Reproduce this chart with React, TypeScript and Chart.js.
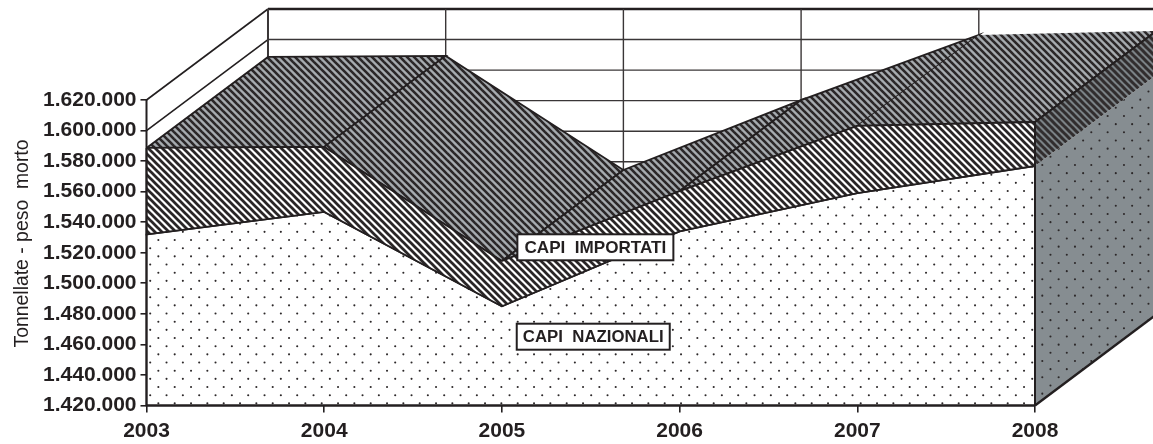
import React, { useEffect, useRef } from "react";
import { Chart, registerables } from "chart.js";

Chart.register(...registerables);

const years = [2003, 2004, 2005, 2006, 2007, 2008];
const capiNazionali = [1532000, 1546700, 1485000, 1534000, 1559000, 1576800];
const capiImportati = [56600, 42600, 29600, 26400, 44000, 28800];
const yTicks = [1420000, 1440000, 1460000, 1480000, 1500000, 1520000, 1540000, 1560000, 1580000, 1600000, 1620000];
const yAxisTitle = "Tonnellate - peso  morto";
const seriesLabels = ["CAPI  IMPORTATI", "CAPI  NAZIONALI"];

const INK = "#231f20";
const FONT = '"Liberation Sans", Arial, sans-serif';
const depthX = 0.6837;
const depthY = 59575;
const yMin = yTicks[0];

type P = { x: number; y: number };

function tile(w: number, h: number, draw: (c: CanvasRenderingContext2D) => void) {
  const cv = document.createElement("canvas");
  cv.width = w;
  cv.height = h;
  draw(cv.getContext("2d")!);
  return document.createElement("canvas").getContext("2d")!.createPattern(cv, "repeat")!;
}

function stripes(bg: string, fg: string, lw: number) {
  const p = 7;
  return tile(p, p, (c) => {
    c.fillStyle = bg;
    c.fillRect(0, 0, p, p);
    c.strokeStyle = fg;
    c.lineWidth = lw;
    for (const o of [-p, 0, p]) {
      c.beginPath();
      c.moveTo(o - 1, -1);
      c.lineTo(o + p + 1, p + 1);
      c.stroke();
    }
  });
}

function dots(bg: string, ox: number, oy: number) {
  const s = 49;
  return tile(s, s, (c) => {
    c.fillStyle = bg;
    c.fillRect(0, 0, s, s);
    c.fillStyle = "#2c2829";
    for (let r = 0; r < 6; r++) {
      for (let k = 0; k < 3; k++) {
        const x = (ox + (r % 2) * (s / 6) + (k * s) / 3) % s;
        const y = (oy + (r * s) / 6) % s;
        c.beginPath();
        c.arc(x, y, 1.05, 0, Math.PI * 2);
        c.fill();
      }
    }
  });
}

function line(data: P[], width: number, color = INK) {
  return {
    data,
    borderColor: color,
    borderWidth: width,
    backgroundColor: "transparent",
    pointRadius: 0,
    tension: 0,
    fill: false,
    clip: false,
  };
}

function poly(data: P[], fillStyle: any, width: number) {
  return {
    data: [...data, data[0]],
    borderColor: width ? INK : "transparent",
    borderWidth: width,
    borderJoinStyle: "miter",
    backgroundColor: fillStyle,
    pointRadius: 0,
    tension: 0,
    fill: "shape",
    clip: false,
  };
}

const back = (p: P): P => ({ x: p.x + depthX, y: p.y + depthY });

const boxPlugin = {
  id: "labels3d",
  afterDatasetsDraw(chart: any) {
    const { ctx, scales } = chart;
    const boxes = [
      { text: seriesLabels[0], x: 2005.526, y: 1523570, w: 156, h: 26, size: 17.1 },
      { text: seriesLabels[1], x: 2005.514, y: 1465040, w: 153, h: 26, size: 16.8 },
    ];
    ctx.save();
    for (const b of boxes) {
      const cx = scales.x.getPixelForValue(b.x);
      const cy = scales.y.getPixelForValue(b.y);
      ctx.fillStyle = "#ffffff";
      ctx.strokeStyle = INK;
      ctx.lineWidth = 2;
      ctx.fillRect(cx - b.w / 2, cy - b.h / 2, b.w, b.h);
      ctx.strokeRect(cx - b.w / 2, cy - b.h / 2, b.w, b.h);
      ctx.fillStyle = INK;
      ctx.font = `bold ${b.size}px ${FONT}`;
      ctx.textAlign = "center";
      ctx.textBaseline = "middle";
      ctx.fillText(b.text, cx, cy + 1);
    }
    ctx.translate(28, 243.5);
    ctx.rotate(-Math.PI / 2);
    ctx.fillStyle = INK;
    ctx.font = `19.4px ${FONT}`;
    ctx.textAlign = "center";
    ctx.textBaseline = "alphabetic";
    ctx.fillText(yAxisTitle, 0, 0);
    ctx.restore();
  },
};

export default function App() {
  const ref = useRef<HTMLCanvasElement>(null);

  useEffect(() => {
    const nat: P[] = years.map((x, i) => ({ x, y: capiNazionali[i] }));
    const tot: P[] = years.map((x, i) => ({ x, y: capiNazionali[i] + capiImportati[i] }));
    const last = years.length - 1;
    const lastYear = years[last];
    const topTick = yTicks[yTicks.length - 1];

    const sets: any[] = [];
    // back wall
    yTicks.forEach((v) => {
      sets.push(
        line(
          [back({ x: years[0], y: v }), back({ x: lastYear, y: v })],
          v === topTick ? 2.4 : 1.4,
          v === topTick ? INK : "#3a3637",
        ),
      );
      sets.push(line([{ x: years[0], y: v }, back({ x: years[0], y: v })], 1.6));
    });
    years.forEach((x, i) => {
      if (i === last) return;
      sets.push(line([back({ x, y: yMin }), back({ x, y: topTick })], i === 0 ? 2 : 1.4, "#3a3637"));
    });

    // top surface of the stack
    const topPat = stripes("#a6abaf", "#2b2728", 2.6);
    for (let i = 0; i < last; i++) {
      sets.push(poly([tot[i], tot[i + 1], back(tot[i + 1]), back(tot[i])], topPat, 1.8));
    }

    // right side wall
    const a = { x: lastYear, y: yMin };
    sets.push(poly([a, back(a), back(nat[last]), nat[last]], dots("#868d91", 13.3, 34.3), 0));
    sets.push(poly([nat[last], back(nat[last]), back(tot[last]), tot[last]], stripes("#7b8286", "#312d2e", 3), 0));
    sets.push(line([a, back(a)], 2.4));
    sets.push(line([tot[last], back(tot[last])], 2));

    // front faces
    sets.push(poly([a, { x: years[0], y: yMin }, ...nat], dots("#ffffff", 27.7, 27.7), 1.8));
    sets.push(poly([...tot, ...[...nat].reverse()], stripes("#ffffff", "#2a2627", 2.7), 1.8));

    // axis lines
    sets.push(line([{ x: years[0], y: yMin }, { x: years[0], y: topTick }], 2));
    sets.push(line([{ x: years[0], y: yMin }, a], 2));
    sets.push(line([a, tot[last]], 2));

    const chart = new Chart(ref.current!, {
      type: "line",
      data: { datasets: sets.reverse() },
      options: {
        animation: false,
        responsive: false,
        parsing: false as any,
        normalized: false,
        layout: { padding: 0 },
        plugins: { legend: { display: false }, tooltip: { enabled: false }, title: { display: false } },
        scales: {
          x: {
            type: "linear",
            min: years[0],
            max: 2008.664,
            afterFit: (s: any) => {
              s.height = 38.5;
              s.paddingLeft = 0;
              s.paddingRight = 0;
            },
            afterBuildTicks: (s: any) => {
              s.ticks = years.map((value) => ({ value }));
            },
            border: { display: false },
            grid: { drawOnChartArea: false, drawTicks: true, tickLength: 7, color: INK, lineWidth: 1.6 },
            ticks: {
              autoSkip: false,
              maxRotation: 0,
              padding: 6,
              color: INK,
              font: { family: FONT, size: 21, weight: "bold" },
              callback: (v: any) => String(v),
            },
          },
          y: {
            type: "linear",
            min: yMin,
            max: 1685466,
            afterFit: (s: any) => {
              s.width = 146.5;
              s.paddingTop = 0;
              s.paddingBottom = 0;
            },
            afterBuildTicks: (s: any) => {
              s.ticks = yTicks.map((value) => ({ value }));
            },
            border: { display: false },
            grid: { drawOnChartArea: false, drawTicks: true, tickLength: 6, color: INK, lineWidth: 1.6 },
            ticks: {
              autoSkip: false,
              padding: 4,
              color: INK,
              font: { family: FONT, size: 21, weight: "bold" },
              callback: (v: any) => String(v).replace(/\B(?=(\d{3})+(?!\d))/g, "."),
            },
          },
        },
      },
      plugins: [boxPlugin],
    } as any);
    return () => chart.destroy();
  }, []);

  return (
    <div style={{ position: "fixed", left: 0, top: 0, width: 1153, height: 444, background: "#fff" }}>
      <canvas ref={ref} width={1153} height={444} style={{ display: "block" }} />
    </div>
  );
}
